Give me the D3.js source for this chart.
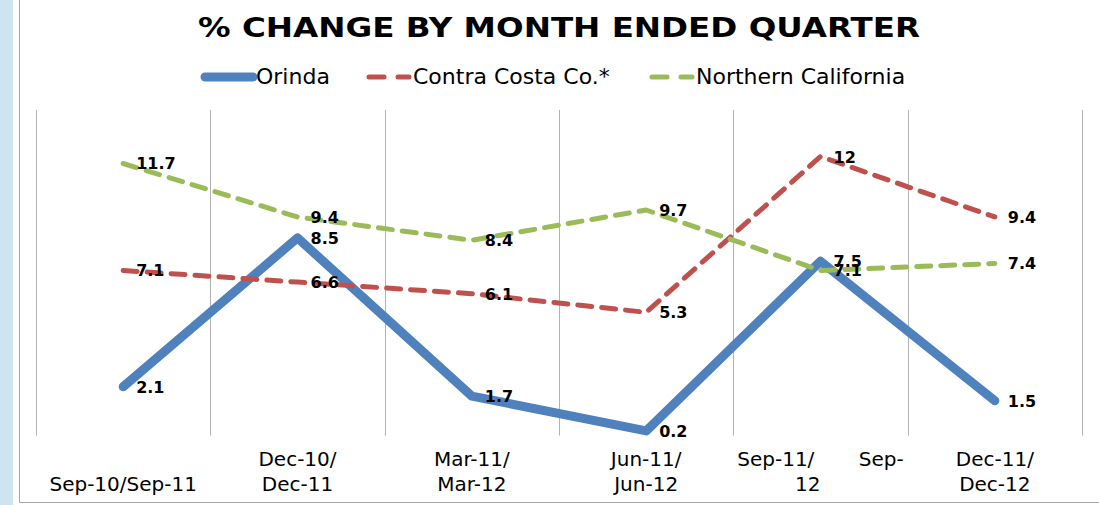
<!DOCTYPE html>
<html>
<head>
<meta charset="utf-8">
<script src="https://cdn.jsdelivr.net/npm/d3@7"></script>
<style>
  body { margin: 0; background: #fff; }
  text { font-family: "DejaVu Sans", Verdana, sans-serif; }
</style>
</head>
<body>
<div id="chart"></div>
<script>
/* CONSTANTS AND GLOBALS */
const width = 1099;
const height = 505;

/* DATA */
const categories = ["Sep-10/Sep-11", "Dec-10/Dec-11", "Mar-11/Mar-12", "Jun-11/Jun-12", "Sep-11/Sep-12", "Dec-11/Dec-12"];
// tick labels as Excel wrapped them
const tickLines = [
  ["", "Sep-10/Sep-11"],
  ["Dec-10/", "Dec-11"],
  ["Mar-11/", "Mar-12"],
  ["Jun-11/", "Jun-12"],
  ["Sep-11/       Sep-", "12    "],
  ["Dec-11/", "Dec-12"]
];
const orinda = [2.1, 8.5, 1.7, 0.2, 7.5, 1.5];
const contraCosta = [7.1, 6.6, 6.1, 5.3, 12, 9.4];
const northernCal = [11.7, 9.4, 8.4, 9.7, 7.1, 7.4];
const seriesNames = ["Orinda", "Contra Costa Co.*", "Northern California"];

const series = [
  { name: seriesNames[0], values: orinda, color: "#4F81BD", width: 9, dash: null },
  { name: seriesNames[1], values: contraCosta, color: "#C0504D", width: 5, dash: "14 10" },
  { name: seriesNames[2], values: northernCal, color: "#9BBB59", width: 5, dash: "14 10" }
];

const svg = d3.select("#chart")
  .append("svg")
  .attr("width", width)
  .attr("height", height);

// left strip + frame
svg.append("rect")
  .attr("x", 0).attr("y", 0)
  .attr("width", 13).attr("height", height)
  .attr("fill", "#CDE4F1");

svg.append("path")
  .attr("d", "M19.5,0 V502.5 H" + width)
  .attr("fill", "none")
  .attr("stroke", "#A6A6A6")
  .attr("stroke-width", 1);

/* SCALES */
const xScale = d3.scaleBand()
  .domain(categories)
  .range([36, 1082]);

const yScale = d3.scaleLinear()
  .domain([0, 14])
  .range([435.6, 110]);

const cx = d => xScale(d) + xScale.bandwidth() / 2;

// GRIDLINES (category boundaries)
const bounds = categories.map(c => xScale(c)).concat([xScale.range()[1]]);
svg.append("g")
  .selectAll("line")
  .data(bounds)
  .join("line")
  .attr("x1", d => Math.round(d) + 0.5)
  .attr("x2", d => Math.round(d) + 0.5)
  .attr("y1", yScale.range()[1])
  .attr("y2", yScale(0))
  .attr("stroke", "#B3B3B3")
  .attr("stroke-width", 1);

// X AXIS LABELS
const xAxis = d3.axisBottom(xScale).tickSize(0).tickFormat("");
const gx = svg.append("g")
  .attr("transform", "translate(0," + yScale(0) + ")")
  .call(xAxis);
gx.select(".domain").remove();

gx.selectAll(".tick")
  .each(function (d, i) {
    const t = d3.select(this).append("text")
      .attr("fill", "#000")
      .attr("text-anchor", "middle")
      .style("font-family", "'DejaVu Sans', sans-serif")
      .style("font-size", "20px")
      .style("white-space", "pre");
    tickLines[i].forEach((line, j) => {
      t.append("tspan")
        .attr("x", 0)
        .attr("y", 30 + j * 25)
        .text(line);
    });
  });

/* LINES */
const line = d3.line()
  .x((d, i) => cx(categories[i]))
  .y(d => yScale(d));

svg.selectAll(".series")
  .data(series)
  .join("path")
  .attr("class", "series")
  .attr("d", d => line(d.values))
  .attr("fill", "none")
  .attr("stroke", d => d.color)
  .attr("stroke-width", d => d.width)
  .attr("stroke-linecap", "round")
  .attr("stroke-linejoin", "round")
  .attr("stroke-dasharray", d => d.dash);

// DATA LABELS
series.forEach(s => {
  svg.append("g")
    .selectAll("text")
    .data(s.values)
    .join("text")
    .attr("x", (d, i) => cx(categories[i]) + 13)
    .attr("y", d => yScale(d) + 6)
    .style("font-size", "16px")
    .style("font-weight", "bold")
    .attr("fill", "#000")
    .text(d => d);
});

// TITLE
svg.append("text")
  .attr("x", 559)
  .attr("y", 37)
  .attr("text-anchor", "middle")
  .attr("textLength", 722)
  .attr("lengthAdjust", "spacingAndGlyphs")
  .style("font-size", "27px")
  .style("font-weight", "bold")
  .text("% CHANGE BY MONTH ENDED QUARTER");

// LEGEND
const legendX = [205, 369, 652];
const legend = svg.append("g")
  .selectAll("g")
  .data(series)
  .join("g")
  .attr("transform", (d, i) => "translate(" + legendX[i] + ",77)");

legend.append("line")
  .attr("x1", 0).attr("x2", d => d.dash ? 40 : 48)
  .attr("stroke", d => d.color)
  .attr("stroke-width", d => d.width)
  .attr("stroke-linecap", "round")
  .attr("stroke-dasharray", d => d.dash ? "15 14" : null);

legend.append("text")
  .attr("x", d => d.dash ? 44 : 51)
  .attr("y", 7)
  .style("font-size", "22px")
  .text(d => d.name);
</script>
</body>
</html>
